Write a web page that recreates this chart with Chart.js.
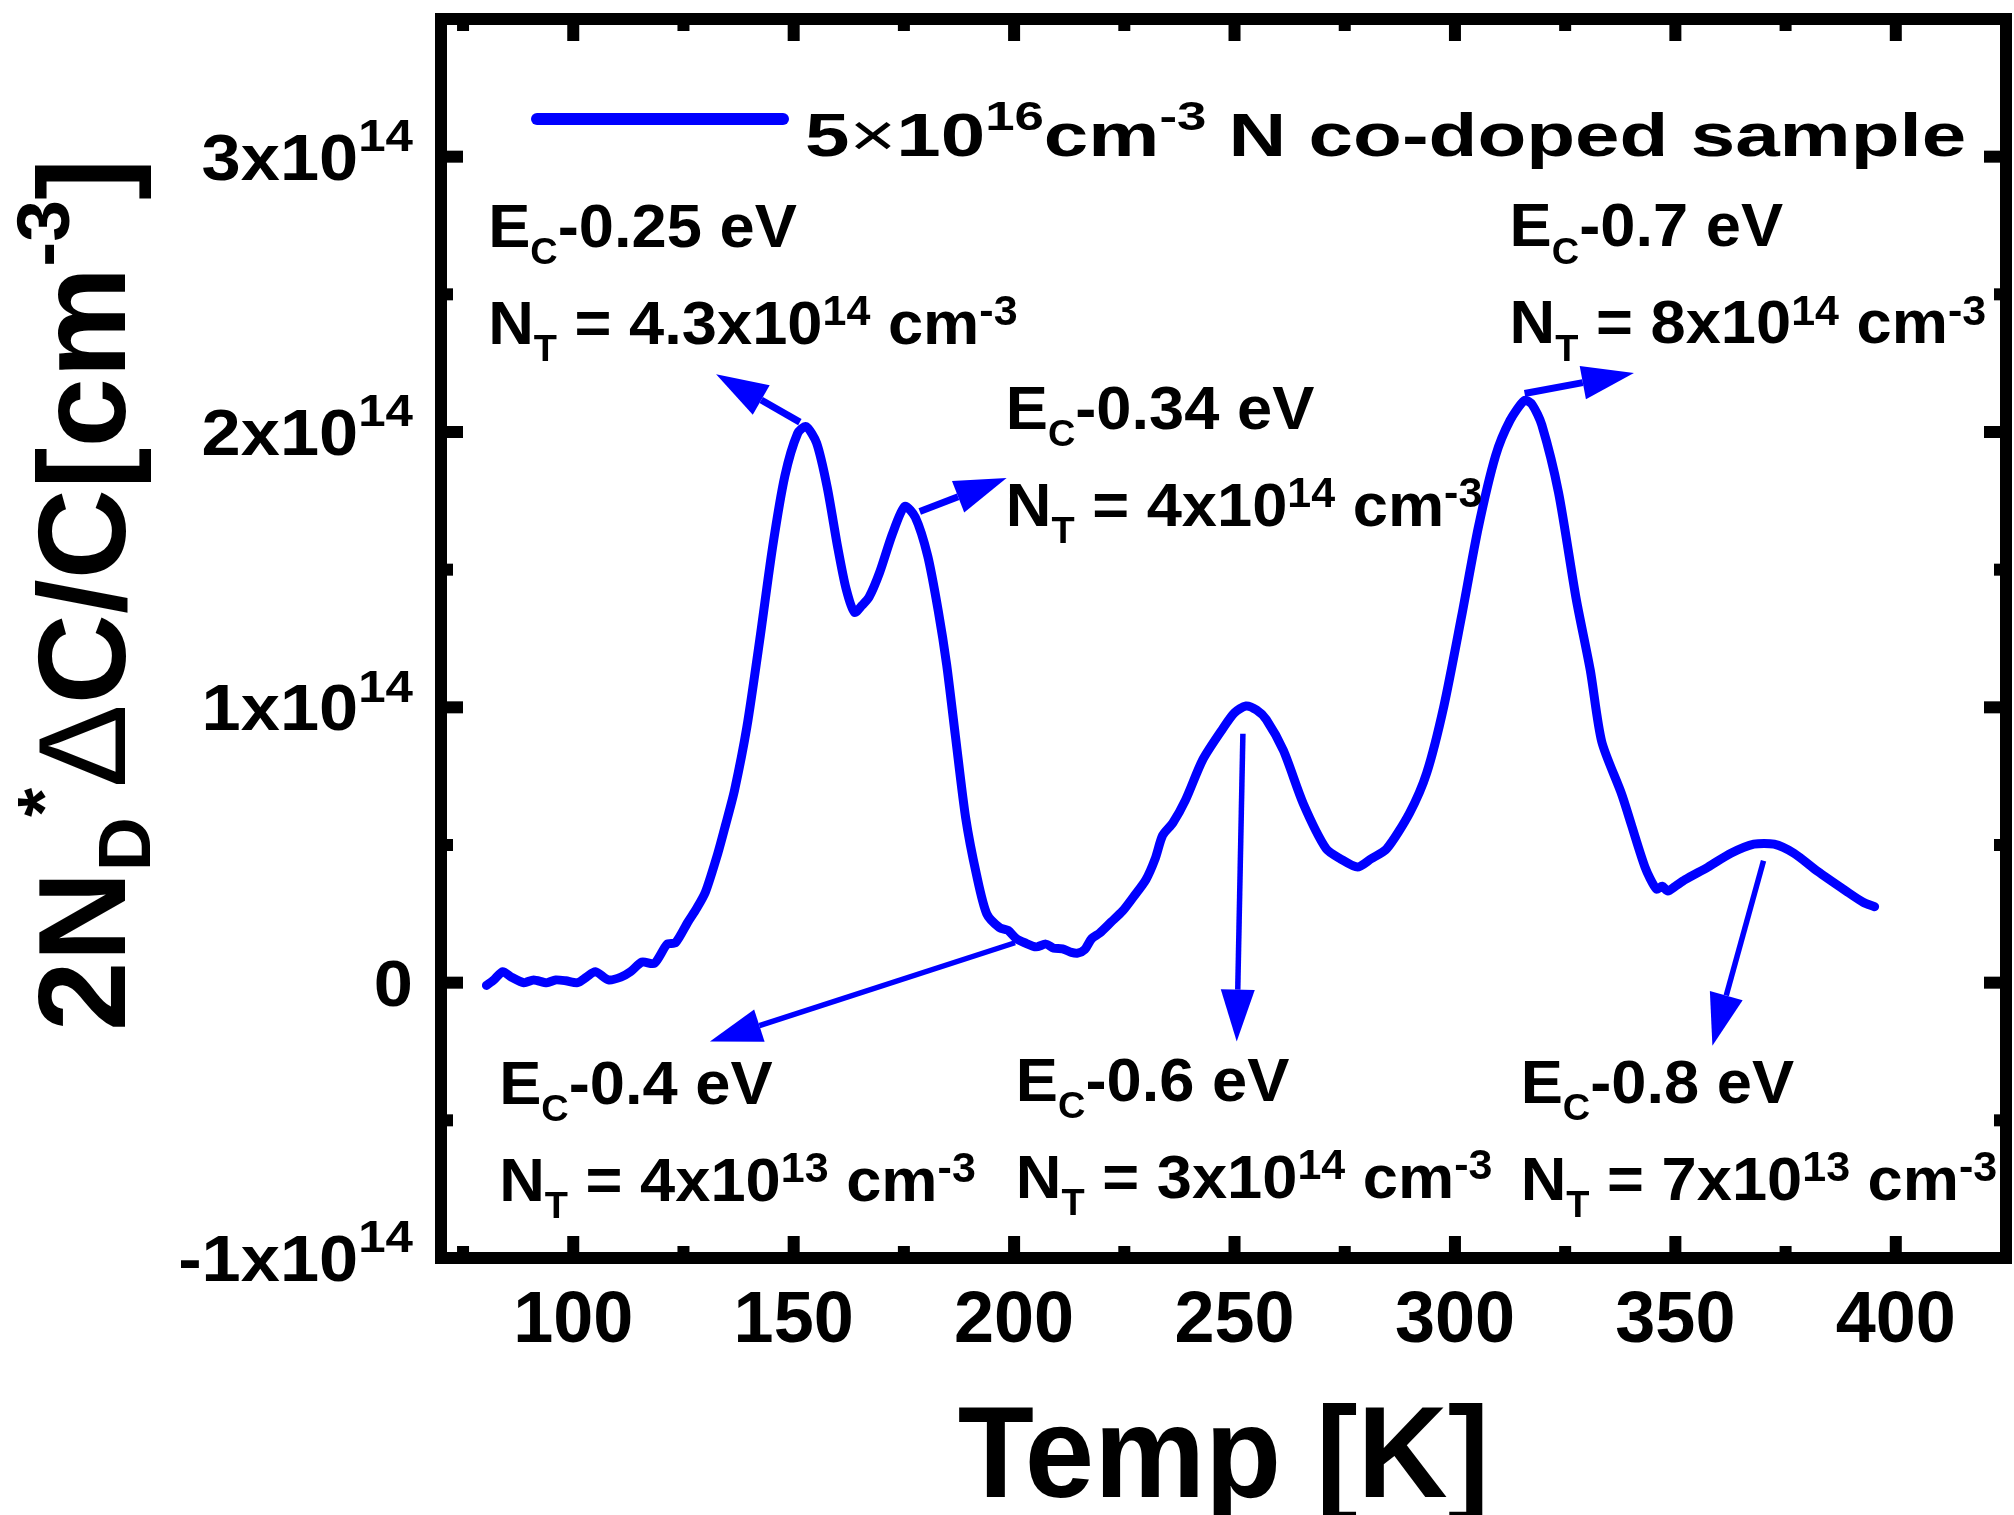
<!DOCTYPE html>
<html lang="en">
<head>
<meta charset="UTF-8">
<title>DLTS spectrum - N co-doped sample</title>
<style>
    body { margin: 0; background: #ffffff; }
    #wrap { width: 2014px; height: 1515px; }
</style>
</head>
<body>
<div id="wrap"><canvas id="dlts" width="2014" height="1515"></canvas></div>

<script src="https://cdn.jsdelivr.net/npm/chart.js"></script>
<script>
// values: temperature [K] and 2N_D*dC/C [cm^-3]
const temps = [
    80.3, 82, 84, 86, 88.8, 91, 94, 96, 98.3, 101, 103, 105, 108, 110.8, 113, 115.6,
    118.4, 121.3, 123.2, 126, 128, 130, 132.8, 134.5, 136.6, 139.4, 142.3, 145.2, 148,
    150.9, 152.8, 155.2, 157.6, 160, 161.9, 163.8, 165.5, 167.1, 169.5, 172.4, 175.2,
    177.6, 180.4, 182.8, 184.7, 186.7, 189, 191.5, 193.8, 196.7, 198.6, 200.5, 202.4,
    205, 207.2, 209, 211, 213, 214.4, 216, 217.6, 219.4, 222, 224.6, 227, 229.9, 232,
    233.7, 236, 238.9, 242.8, 247.4, 250, 252.6, 255, 257.2, 261.1, 265.6, 270.8, 274,
    277.9, 281, 284.5, 289.7, 293.6, 297.5, 301.5, 305.3, 309.2, 312.5, 315.8, 317.5,
    319.7, 323.5, 327.5, 330.7, 333.3, 337.9, 343.1, 345.7, 347, 348.3, 350, 352.2,
    357.4, 362.6, 367.8, 372.4, 376.9, 382.2, 388.7, 392.6, 395.2
];
const signal = [
    -0.01e14, 0.01e14, 0.04e14, 0.02e14, 0.0, 0.01e14, 0.0, 0.01e14, 0.007e14, 0.0,
    0.02e14, 0.04e14, 0.01e14, 0.02e14, 0.04e14, 0.075e14, 0.07e14, 0.14e14, 0.145e14,
    0.22e14, 0.27e14, 0.33e14, 0.47e14, 0.57e14, 0.70e14, 0.93e14, 1.245e14, 1.58e14,
    1.84e14, 1.995e14, 2.02e14, 1.96e14, 1.80e14, 1.58e14, 1.43e14, 1.345e14, 1.37e14,
    1.40e14, 1.49e14, 1.63e14, 1.73e14, 1.69e14, 1.55e14, 1.35e14, 1.155e14, 0.894e14,
    0.60e14, 0.39e14, 0.25e14, 0.20e14, 0.19e14, 0.16e14, 0.145e14, 0.13e14, 0.14e14,
    0.125e14, 0.123e14, 0.11e14, 0.107e14, 0.12e14, 0.16e14, 0.18e14, 0.22e14, 0.26e14,
    0.31e14, 0.374e14, 0.45e14, 0.535e14, 0.58e14, 0.664e14, 0.81e14, 0.924e14, 0.98e14,
    1.005e14, 0.99e14, 0.956e14, 0.843e14, 0.65e14, 0.486e14, 0.45e14, 0.42e14, 0.45e14,
    0.486e14, 0.616e14, 0.762e14, 1.005e14, 1.33e14, 1.653e14, 1.913e14, 2.042e14,
    2.115e14, 2.10e14, 2.026e14, 1.78e14, 1.394e14, 1.135e14, 0.875e14, 0.681e14, 0.42e14,
    0.34e14, 0.35e14, 0.333e14, 0.35e14, 0.374e14, 0.42e14, 0.47e14, 0.503e14, 0.503e14,
    0.47e14, 0.405e14, 0.333e14, 0.292e14, 0.276e14
];

const xMajorTicks = [100, 150, 200, 250, 300, 350, 400];
const xMinorTicks = [75, 125, 175, 225, 275, 325, 375];
const yMajorTicks = [-1e14, 0, 1e14, 2e14, 3e14];
const yMinorTicks = [-0.5e14, 0.5e14, 1.5e14, 2.5e14];
const yTickMantissa = ['-1x10', '0', '1x10', '2x10', '3x10'];
const yTickExponent = ['14', '', '14', '14', '14'];

// trap levels (E_C - E_T) and concentrations
const trapLevels = ['0.25', '0.34', '0.7', '0.4', '0.6', '0.8'];
const trapMantissa = ['4.3', '4', '8', '4', '3', '7'];
const trapExponent = ['14', '14', '14', '13', '14', '13'];

// where each label sits (data coords of the first text line) and its arrow
const labelAnchors = [[80.7, 2.672e14], [198.1, 2.011e14], [312.4, 2.675e14],
                      [83.2, -0.439e14], [200.4, -0.428e14], [314.9, -0.436e14]];
const arrowPaths = [
    [[151.4, 2.036e14], [132.4, 2.21e14]],
    [[178.6, 1.711e14], [198.3, 1.833e14]],
    [[315.8, 2.14e14], [340.6, 2.214e14]],
    [[200.2, 0.145e14], [131.0, -0.214e14]],
    [[251.9, 0.904e14], [250.5, -0.214e14]],
    [[370.0, 0.443e14], [358.4, -0.229e14]]
];

const BLUE = '#0000ff';
const FONT = '"Liberation Sans", Arial, sans-serif';

// draws text made of normal / subscript / superscript pieces
function drawRich(ctx, parts, x, y, o) {
    const size = o.size, sx = o.sx || 1;
    const subScale = o.subScale || 0.6, supScale = o.supScale || 0.62;
    const subDrop = o.subDrop || 0.25, supRise = o.supRise || 0.28;
    const pieces = parts.map(p => {
        const kind = p[1] || '';
        const fs = kind === 'sub' ? size * subScale : kind === 'sup' ? size * supScale : size;
        const dy = kind === 'sub' ? size * subDrop : kind === 'sup' ? -size * supRise : 0;
        const font = (p[2] || 'bold') + ' ' + fs + 'px ' + FONT;
        ctx.font = font;
        return { t: p[0], font: font, dy: dy, w: ctx.measureText(p[0]).width };
    });
    const total = pieces.reduce((s, p) => s + p.w, 0) * sx;
    let x0 = x;
    if (o.align === 'right') x0 = x - total;
    if (o.align === 'center') x0 = x - total / 2;
    ctx.save();
    ctx.translate(x0, y);
    ctx.scale(sx, 1);
    ctx.fillStyle = o.color || '#000';
    ctx.textBaseline = 'alphabetic';
    ctx.textAlign = 'left';
    let px = 0;
    pieces.forEach(p => {
        ctx.font = p.font;
        ctx.fillText(p.t, px, p.dy);
        px += p.w;
    });
    ctx.restore();
}

function drawArrow(ctx, x1, y1, x2, y2, lw) {
    const ang = Math.atan2(y2 - y1, x2 - x1);
    const headLen = 52, headHalf = 17;
    const bx = x2 - headLen * Math.cos(ang), by = y2 - headLen * Math.sin(ang);
    ctx.save();
    ctx.strokeStyle = BLUE;
    ctx.fillStyle = BLUE;
    ctx.lineWidth = lw;
    ctx.beginPath();
    ctx.moveTo(x1, y1);
    ctx.lineTo(bx, by);
    ctx.stroke();
    ctx.beginPath();
    ctx.moveTo(x2, y2);
    ctx.lineTo(bx + headHalf * Math.sin(ang), by - headHalf * Math.cos(ang));
    ctx.lineTo(bx - headHalf * Math.sin(ang), by + headHalf * Math.cos(ang));
    ctx.closePath();
    ctx.fill();
    ctx.restore();
}

const decorations = {
    id: 'decorations',
    afterDatasetsDraw(chart) {
        const ctx = chart.ctx;
        const xs = chart.scales.x, ys = chart.scales.y;
        arrowPaths.forEach((a, i) => {
            drawArrow(ctx, xs.getPixelForValue(a[0][0]), ys.getPixelForValue(a[0][1]),
                      xs.getPixelForValue(a[1][0]), ys.getPixelForValue(a[1][1]), i < 3 ? 7 : 5.5);
        });
        const annot = { size: 62, sx: 1.02, subScale: 0.6, subDrop: 0.28, supScale: 0.68, supRise: 0.3 };
        labelAnchors.forEach((p, i) => {
            const x = xs.getPixelForValue(p[0]), y = ys.getPixelForValue(p[1]);
            drawRich(ctx, [['E'], ['C', 'sub'], ['-' + trapLevels[i] + ' eV']], x, y, annot);
            drawRich(ctx, [['N'], ['T', 'sub'], [' = ' + trapMantissa[i] + 'x10'],
                           [trapExponent[i], 'sup'], [' cm'], ['-3', 'sup']], x, y + 97, annot);
        });
    },
    afterDraw(chart) {
        const ctx = chart.ctx;
        const { left, right, top, bottom } = chart.chartArea;
        const xs = chart.scales.x, ys = chart.scales.y;
        const lw = 12, h = lw / 2, major = 16, minor = 6;
        ctx.save();
        ctx.fillStyle = '#000';
        // inward ticks on all four sides
        xMajorTicks.concat(xMinorTicks).forEach(v => {
            const len = xMajorTicks.includes(v) ? major : minor;
            const px = xs.getPixelForValue(v);
            ctx.fillRect(px - h, bottom - h - len, lw, len + h);
            ctx.fillRect(px - h, top, lw, h + len);
        });
        yMajorTicks.concat(yMinorTicks).forEach(v => {
            const len = yMajorTicks.includes(v) ? major : minor;
            const py = ys.getPixelForValue(v);
            ctx.fillRect(left, py - h, h + len, lw);
            ctx.fillRect(right - h - len, py - h, h + len, lw);
        });
        ctx.strokeStyle = '#000';
        ctx.lineWidth = lw;
        ctx.lineJoin = 'miter';
        ctx.strokeRect(left, top, right - left, bottom - top);
        ctx.restore();

        // tick labels
        xMajorTicks.forEach(v => {
            drawRich(ctx, [[String(v)]], xs.getPixelForValue(v), bottom + 84, { size: 72, align: 'center' });
        });
        yMajorTicks.forEach((v, i) => {
            const py = ys.getPixelForValue(v);
            const parts = [[yTickMantissa[i]]];
            if (yTickExponent[i]) parts.push([yTickExponent[i], 'sup']);
            drawRich(ctx, parts, left - 28, py + 23, { size: 64, sx: 1.1, supScale: 0.7, supRise: 0.45, align: 'right' });
        });

        // axis titles
        drawRich(ctx, [['Temp [K]']], (left + right) / 2, bottom + 239, { size: 130, sx: 0.96, align: 'center' });
        ctx.save();
        ctx.translate(125, 1031);
        ctx.rotate(-Math.PI / 2);
        drawRich(ctx, [['2N'], ['D', 'sub'], ['*', 'sup'], ['\u0394', '', 'normal'], ['C/C[cm'], ['-3', 'sup'], [']']],
                 0, 0, { size: 125, subScale: 0.6, subDrop: 0.2, supScale: 0.6, supRise: 0.45 });
        ctx.restore();

        // legend
        ctx.save();
        ctx.strokeStyle = BLUE;
        ctx.lineWidth = 12;
        ctx.lineCap = 'round';
        ctx.beginPath();
        ctx.moveTo(left + 96, top + 100);
        ctx.lineTo(left + 342, top + 100);
        ctx.stroke();
        ctx.restore();
        drawRich(ctx, [['5'], ['\u00d7', '', 'normal'], ['10'], ['16', 'sup'], ['cm'], ['-3', 'sup'], [' N co-doped sample']],
                 left + 364, top + 137, { size: 62, sx: 1.29, supScale: 0.66, supRise: 0.42 });
    }
};

new Chart(document.getElementById('dlts'), {
    type: 'line',
    data: {
        datasets: [{
            label: '5\u00d710^16 cm^-3 N co-doped sample',
            data: temps.map((t, i) => ({ x: t, y: signal[i] })),
            borderColor: BLUE,
            borderWidth: 9,
            pointRadius: 0,
            fill: false,
            tension: 0.25,
            borderCapStyle: 'round',
            borderJoinStyle: 'round'
        }]
    },
    options: {
        responsive: false,
        devicePixelRatio: 1,
        animation: false,
        layout: { padding: { left: 441, right: 8, top: 19, bottom: 257 } },
        plugins: { legend: { display: false }, tooltip: { enabled: false } },
        scales: {
            x: { type: 'linear', min: 70, max: 425, display: false },
            y: { type: 'linear', min: -1e14, max: 3.5e14, display: false }
        }
    },
    plugins: [decorations]
});
</script>
</body>
</html>
